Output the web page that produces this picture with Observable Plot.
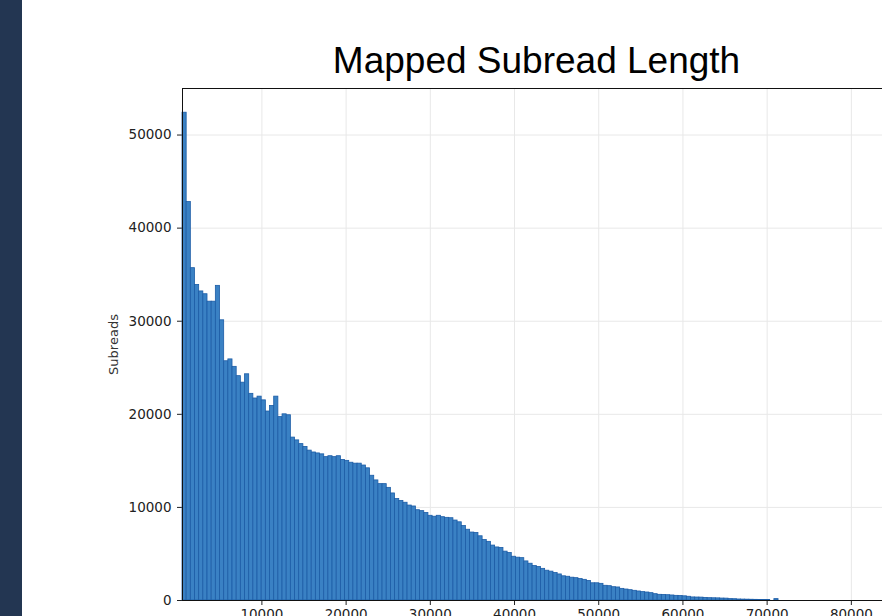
<!DOCTYPE html>
<html>
<head>
<meta charset="utf-8">
<script src="https://cdn.jsdelivr.net/npm/d3@7"></script>
<script src="https://cdn.jsdelivr.net/npm/@observablehq/plot@0.6"></script>
<style>
html, body { margin: 0; padding: 0; overflow: hidden; background: #fff; width: 882px; height: 616px; }
#side { position: absolute; left: 0; top: 0; width: 22px; height: 616px; background: #233652; }
#chart { position: absolute; left: 0; top: 0; }
#title { position: absolute; left: 536.5px; top: 42px; transform: translateX(-50%);
  font-family: "Liberation Sans", Arial, sans-serif; font-size: 37px; line-height: 37px;
  color: #000; white-space: nowrap; }
</style>
</head>
<body>
<div id="chart"></div>
<div id="side"></div>
<div id="title">Mapped Subread Length</div>
<script>
// Histogram bins: first bin starts at binStart, each bin is binWidth long
const binStart = 570;
const binWidth = 495;
const counts = [
  52400, 42800, 35700, 33900, 33200, 32900, 32100, 32100, 33800, 30100,
  25700, 25900, 25100, 24100, 23400, 24300, 22200, 21700, 21900, 21500,
  20300, 20900, 21900, 19700, 20000, 19900, 17500, 17200, 16800, 16500,
  16100, 15900, 15800, 15700, 15400, 15500, 15400, 15500, 15100, 15000,
  14800, 14700, 14700, 14500, 14200, 13400, 12900, 12500, 12500, 12100,
  11500, 10900, 10700, 10500, 10200, 10100, 9700, 9600, 9400, 9100,
  9000, 9100, 8950, 8880, 8840, 8590, 8400, 8000, 7600, 7300,
  7250, 6900, 6500, 6300, 5900, 5700, 5650, 5250, 5100, 4700,
  4600, 4550, 4200, 3950, 3700, 3600, 3400, 3200, 3100, 2950,
  2800, 2600, 2550, 2450, 2400, 2300, 2220, 2100, 1850, 1850,
  1790, 1580, 1540, 1430, 1400, 1250, 1180, 1110, 1040, 970,
  900, 860, 790, 680, 610, 600, 570, 540, 500, 480,
  450, 400, 330, 320, 310, 280, 250, 240, 230, 210,
  200, 150, 140, 110, 100, 90, 80, 70, 60, 55,
  50, 0, 150
];
const xTicks = [10000, 20000, 30000, 40000, 50000, 60000, 70000, 80000];
const yTicks = [0, 10000, 20000, 30000, 40000, 50000];
const xDomain = [570, 83700];
const yDomain = [0, 55000];
const yLabel = "Subreads";

const bins = counts.map((c, i) => ({
  x0: binStart + i * binWidth,
  x1: binStart + (i + 1) * binWidth,
  count: c
}));

const chart = Plot.plot({
  width: 882,
  height: 632,
  marginLeft: 182,
  marginRight: 0,
  marginTop: 88,
  marginBottom: 32,
  style: { fontFamily: "DejaVu Sans", fontSize: "13.5px", color: "#222", background: "transparent" },
  x: { domain: xDomain, ticks: xTicks, tickFormat: d3.format("d"), tickSize: 5, tickPadding: 4, label: null },
  y: { domain: yDomain, ticks: yTicks, tickFormat: d3.format("d"), tickSize: 5, tickPadding: 6, label: null },
  marks: [
    Plot.gridX(xTicks, { stroke: "#e8e8e8", strokeOpacity: 1 }),
    Plot.gridY(yTicks, { stroke: "#e8e8e8", strokeOpacity: 1 }),
    Plot.rectY(bins, { x1: "x0", x2: "x1", y: "count", fill: "#3a81c4", stroke: "#1c5ca6", strokeWidth: 0.8 }),
    Plot.ruleX([xDomain[0]], { stroke: "#111" }),
    Plot.ruleY([yDomain[0]], { stroke: "#111" }),
    Plot.ruleY([yDomain[1]], { stroke: "#111" }),
    Plot.text([yLabel], { frameAnchor: "left", textAnchor: "middle", dx: -69, rotate: -90, fontSize: 13, fill: "#333" })
  ]
});
document.getElementById("chart").appendChild(chart);
</script>
</body>
</html>
